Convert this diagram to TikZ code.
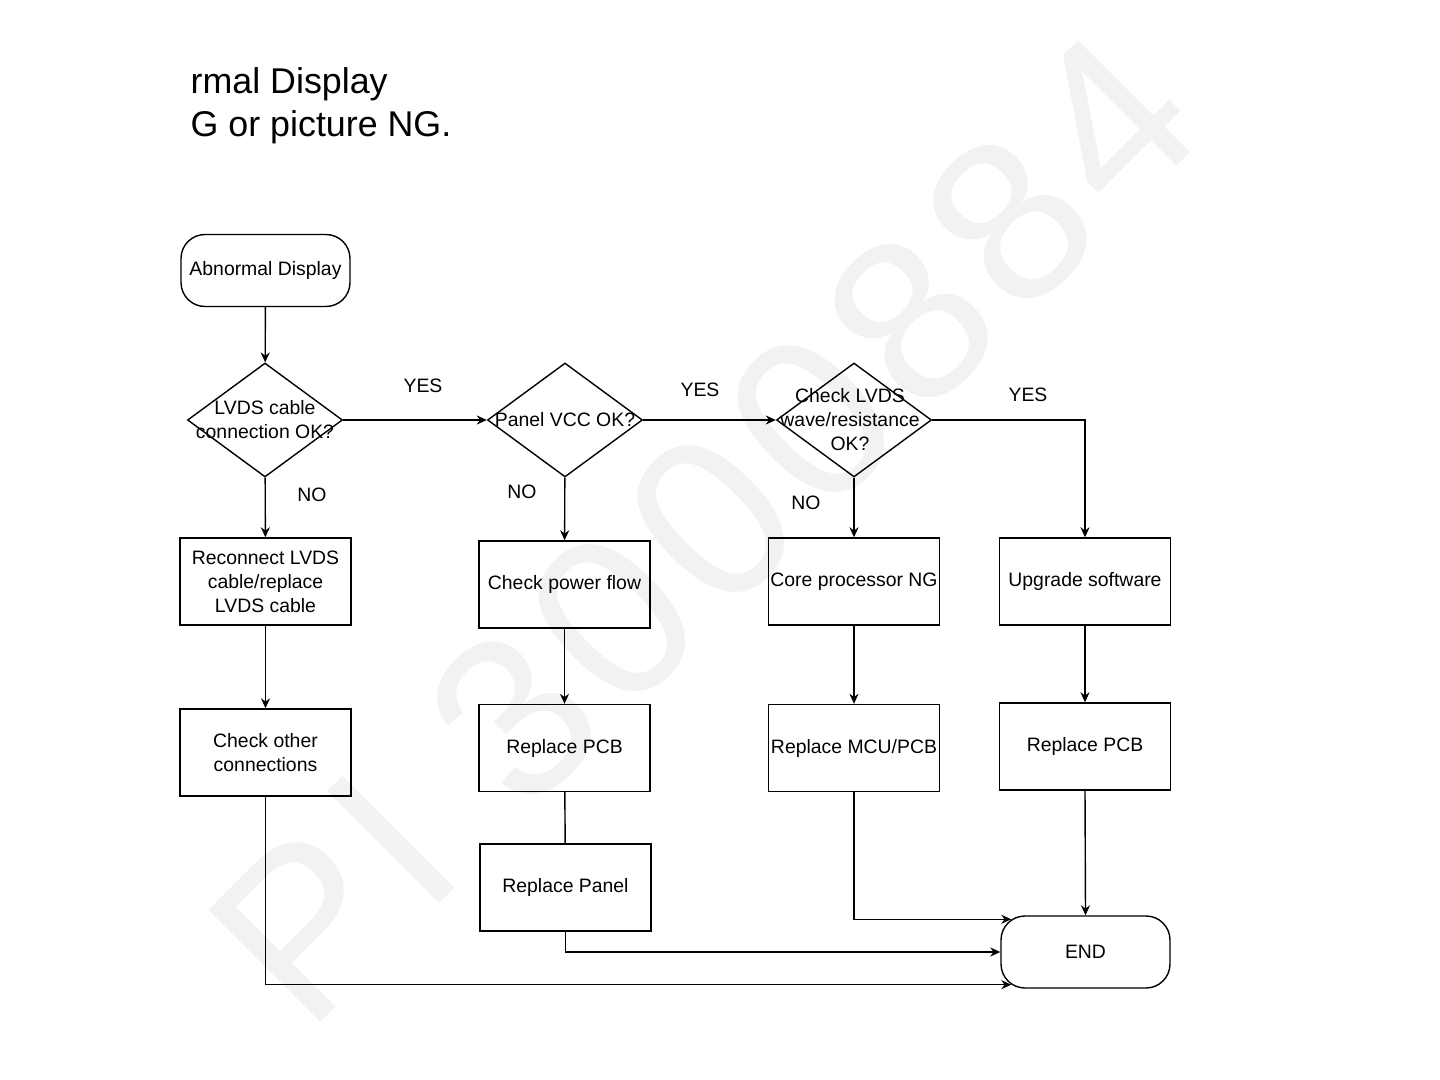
\documentclass[tikz,border=0pt]{standalone}
\usepackage{fontspec}
\setmainfont{Liberation Sans}
\newfontfamily\wmfont[LetterSpace=5.5]{Liberation Sans}
\usetikzlibrary{shapes.geometric,arrows.meta,calc}
\begin{document}
\begin{tikzpicture}[x=0.5pt,y=-0.5pt,
  line width=0.7pt,
  every node/.style={font=\fontsize{9.7pt}{12pt}\selectfont},
  box/.style={draw, rectangle, minimum width=85.5pt, minimum height=43.5pt, inner sep=0pt, align=center},
  dia/.style={draw, diamond, minimum width=77.5pt, minimum height=57pt, inner sep=0pt},
  term/.style={draw, rectangle, rounded corners=12pt, minimum width=84.5pt, minimum height=36pt, inner sep=0pt},
  lbl/.style={inner sep=0pt},
  arr/.style={-{Stealth[length=5pt,width=4.5pt]}},
  wm/.style={text=black!5, font=\wmfont\fontsize{115pt}{115pt}\selectfont, inner sep=0pt}
]
\useasboundingbox (0,0) rectangle (1440,1080);
\fill[white] (0,0) rectangle (1440,1080);
% watermark
\node[wm, rotate=45, anchor=base west] (wmark) at (307,1036) {PI 3000884};
% title
\node[lbl, anchor=west, font=\fontsize{17.9pt}{22pt}\selectfont] (t1) at (190,84) {rmal Display};
\node[lbl, anchor=west, font=\fontsize{17.9pt}{22pt}\selectfont] (t2) at (190,127) {G or picture NG.};
% nodes
\node[term] (start) at (265.5,270.5) {\raisebox{-1pt}{Abnormal Display}};
\node[dia] (d1) at (265,420) {};
\node[lbl, align=center] (d1t) at (265,420) {LVDS cable\\connection OK?};
\node[dia] (d2) at (565,420) {};
\node[lbl, align=center] (d2t) at (565,420) {Panel VCC OK?};
\node[dia] (d3) at (854,420) {};
\node[lbl, align=center] (d3t) at (850,420) {Check LVDS\\wave/resistance\\OK?};
\node[box] (b1) at (265.5,581.5) {Reconnect LVDS\\cable/replace\\LVDS cable};
\node[box] (b2) at (564.5,584.5) {Check power flow};
\node[box] (b3) at (854,581.5) {Core processor NG};
\node[box] (b4) at (1085,581.5) {Upgrade software};
\node[box] (c1) at (265.5,752.5) {Check other\\connections};
\node[box] (c2) at (564.5,748) {Replace PCB};
\node[box] (c3) at (854,748) {Replace MCU/PCB};
\node[box] (c4) at (1085,746.5) {Replace PCB};
\node[box] (p2) at (565.5,887.5) {Replace Panel};
\node[term] (endn) at (1085.5,952) {END};
\coordinate (e1) at ($(endn.north west)+(11,4)$);
\coordinate (e3) at ($(endn.south west)+(11,-4)$);
\coordinate (k3) at (d3.east -| b4.north);
% connectors
\draw[arr] (start) -- (d1);
\draw[arr] (d1) -- (d2);
\draw[arr] (d2) -- (d3);
\draw[arr] (d3.east) -- (k3) -- (b4.north);
\draw[arr] (d1) -- (b1);
\draw[arr] (d2) -- (b2);
\draw[arr] (d3) -- (b3);
\draw[arr] (b1) -- (c1);
\draw[arr] (b2) -- (c2);
\draw[arr] (b3) -- (c3);
\draw[arr] (b4) -- (c4);
\draw (c2) -- (p2);
\draw[arr] (c1.south) |- (e3);
\draw[arr] (p2.south) |- (endn.west);
\draw[arr] (c3.south) |- (e1);
\draw[arr] (c4.south) -- (endn.north);
% labels
\node[lbl] (y1) at (423,386) {YES};
\node[lbl] (y2) at (700,390) {YES};
\node[lbl] (y3) at (1028,395) {YES};
\node[lbl] (n1) at (312,495) {NO};
\node[lbl] (n2) at (522,492) {NO};
\node[lbl] (n3) at (806,503) {NO};
\end{tikzpicture}
\end{document}
